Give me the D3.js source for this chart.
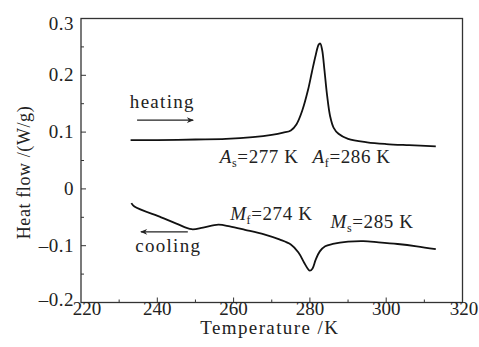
<!DOCTYPE html>
<html>
<head>
<meta charset="utf-8">
<script src="https://cdn.jsdelivr.net/npm/d3@7"></script>
<style>
  body { margin: 0; background: #fff; }
  text { font-family: "Liberation Serif", "Times New Roman", serif; fill: #222; }
</style>
</head>
<body>
<div id="chart"></div>
<script>
// heating run (K, W/g)
const heatT = [233, 240, 250, 258, 265, 270, 273, 275, 276.5, 278, 279.5, 280.5, 281.5, 282.3, 282.7, 283.2, 283.8, 284.5, 285.3, 286.2, 287.5, 290, 295, 300, 306, 313];
const heatQ = [0.086, 0.086, 0.087, 0.088, 0.091, 0.095, 0.099, 0.103, 0.114, 0.138, 0.174, 0.205, 0.235, 0.254, 0.256, 0.245, 0.210, 0.165, 0.128, 0.108, 0.097, 0.088, 0.082, 0.079, 0.077, 0.075];

// cooling run
const coolT = [233.2, 234, 241, 245, 249, 252, 256, 259, 263, 268, 272, 275, 277, 278.5, 279.5, 280, 280.7, 281.5, 282.6, 284, 286, 290, 294, 298, 303, 308, 313];
const coolQ = [-0.025, -0.031, -0.050, -0.061, -0.071, -0.068, -0.063, -0.066, -0.072, -0.080, -0.089, -0.098, -0.112, -0.130, -0.141, -0.144, -0.140, -0.125, -0.110, -0.101, -0.097, -0.093, -0.092, -0.094, -0.097, -0.101, -0.106];

const xTicks = [220, 240, 260, 280, 300, 320];
const yTicks = [-0.2, -0.1, 0, 0.1, 0.2, 0.3];

// transition labels: letter, subscript, rest, x (K), y (W/g)
const labels = [
  ["A", "s", "=277 K", 256.4, 0.046],
  ["A", "f", "=286 K", 280.7, 0.046],
  ["M", "f", "=274 K", 259.1, -0.055],
  ["M", "s", "=285 K", 285.4, -0.069]
];

const W = 479, H = 347;
const margin = {top: 18.5, right: 16.5, bottom: 44.5, left: 81};
const width = W - margin.left - margin.right,
      height = H - margin.top - margin.bottom;

const x = d3.scaleLinear().domain([220, 320]).range([0, width]);
const y = d3.scaleLinear().domain([-0.2, 0.3]).range([height, 0]);

const svg = d3.select("#chart").append("svg")
  .attr("width", W).attr("height", H)
  .append("g")
  .attr("transform", "translate(" + margin.left + "," + margin.top + ")");

svg.append("defs").append("marker")
  .attr("id", "arr")
  .attr("viewBox", "0 0 10 10")
  .attr("refX", 9).attr("refY", 5)
  .attr("markerWidth", 10).attr("markerHeight", 7)
  .attr("markerUnits", "userSpaceOnUse")
  .attr("orient", "auto")
  .append("path").attr("d", "M0,1 L10,5 L0,9 L3,5 Z").attr("fill", "#222");

// frame
svg.append("rect")
  .attr("width", width).attr("height", height)
  .attr("fill", "none").attr("stroke", "#333").attr("stroke-width", 1.3);

// ticks (inward)
const xMinor = d3.range(230, 320, 20);
const yMinor = [-0.15, -0.05, 0.05, 0.15, 0.25];

svg.selectAll(".xt").data(xTicks.slice(1, -1)).enter().append("line")
  .attr("x1", d => x(d)).attr("x2", d => x(d))
  .attr("y1", height).attr("y2", height - 5)
  .attr("stroke", "#333");
svg.selectAll(".xm").data(xMinor).enter().append("line")
  .attr("x1", d => x(d)).attr("x2", d => x(d))
  .attr("y1", height).attr("y2", height - 3)
  .attr("stroke", "#333");
svg.selectAll(".yt").data(yTicks.slice(1, -1)).enter().append("line")
  .attr("x1", 0).attr("x2", 5)
  .attr("y1", d => y(d)).attr("y2", d => y(d))
  .attr("stroke", "#333");
svg.selectAll(".ym").data(yMinor).enter().append("line")
  .attr("x1", 0).attr("x2", 3)
  .attr("y1", d => y(d)).attr("y2", d => y(d))
  .attr("stroke", "#333");

// tick labels
svg.selectAll(".xl").data(xTicks).enter().append("text")
  .attr("x", (d, i) => x(d) + (i === 0 ? 6 : i === xTicks.length - 1 ? 1.5 : 0))
  .attr("y", height + 12)
  .attr("text-anchor", "middle")
  .attr("font-size", 19)
  .text(d => d);
svg.selectAll(".yl").data(yTicks).enter().append("text")
  .attr("x", -7)
  .attr("y", d => y(d) + 6 + (d === 0.3 ? 5 : d === -0.2 ? -3 : 0))
  .attr("text-anchor", "end")
  .attr("font-size", 19)
  .attr("letter-spacing", 0.5)
  .text(d => d === 0 ? "0" : (d < 0 ? "\u2013" : "") + Math.abs(d).toFixed(1));

// axis titles
svg.append("text")
  .attr("x", width / 2 - 2).attr("y", height + 31)
  .attr("text-anchor", "middle").attr("font-size", 19)
  .attr("letter-spacing", 1.4)
  .text("Temperature /K");
svg.append("text")
  .attr("transform", "translate(-51," + (y(0.05) + 12) + ") rotate(-90)")
  .attr("text-anchor", "middle").attr("font-size", 18)
  .attr("letter-spacing", 0.6)
  .text("Heat flow /(W/g)");

// curves
const line = d3.line().curve(d3.curveCatmullRom.alpha(0.5));
svg.append("path")
  .attr("d", line(heatT.map((t, i) => [x(t), y(heatQ[i])])))
  .attr("fill", "none").attr("stroke", "#111").attr("stroke-width", 1.8);
svg.append("path")
  .attr("d", line(coolT.map((t, i) => [x(t), y(coolQ[i])])))
  .attr("fill", "none").attr("stroke", "#111").attr("stroke-width", 1.8);

// direction notes
svg.append("text").attr("x", x(232.8)).attr("y", y(0.1425))
  .attr("font-size", 19).attr("letter-spacing", 1.3).text("heating");
svg.append("line")
  .attr("x1", x(234.7)).attr("x2", x(249.4))
  .attr("y1", y(0.121)).attr("y2", y(0.121))
  .attr("stroke", "#222").attr("stroke-width", 1.3)
  .attr("marker-end", "url(#arr)");
svg.append("text").attr("x", x(234.2)).attr("y", y(-0.111))
  .attr("font-size", 19).attr("letter-spacing", 1.3).text("cooling");
svg.append("line")
  .attr("x1", x(248)).attr("x2", x(235.7))
  .attr("y1", y(-0.0756)).attr("y2", y(-0.0756))
  .attr("stroke", "#222").attr("stroke-width", 1.3)
  .attr("marker-end", "url(#arr)");

// transition temperatures
labels.forEach(l => {
  const t = svg.append("text")
    .attr("x", x(l[3])).attr("y", y(l[4]))
    .attr("font-size", 19).attr("letter-spacing", 0.6);
  t.append("tspan").attr("font-style", "italic").text(l[0]);
  t.append("tspan").attr("font-size", 12).attr("dy", 4).text(l[1]);
  t.append("tspan").attr("dy", -4).text(l[2]);
});
</script>
</body>
</html>
